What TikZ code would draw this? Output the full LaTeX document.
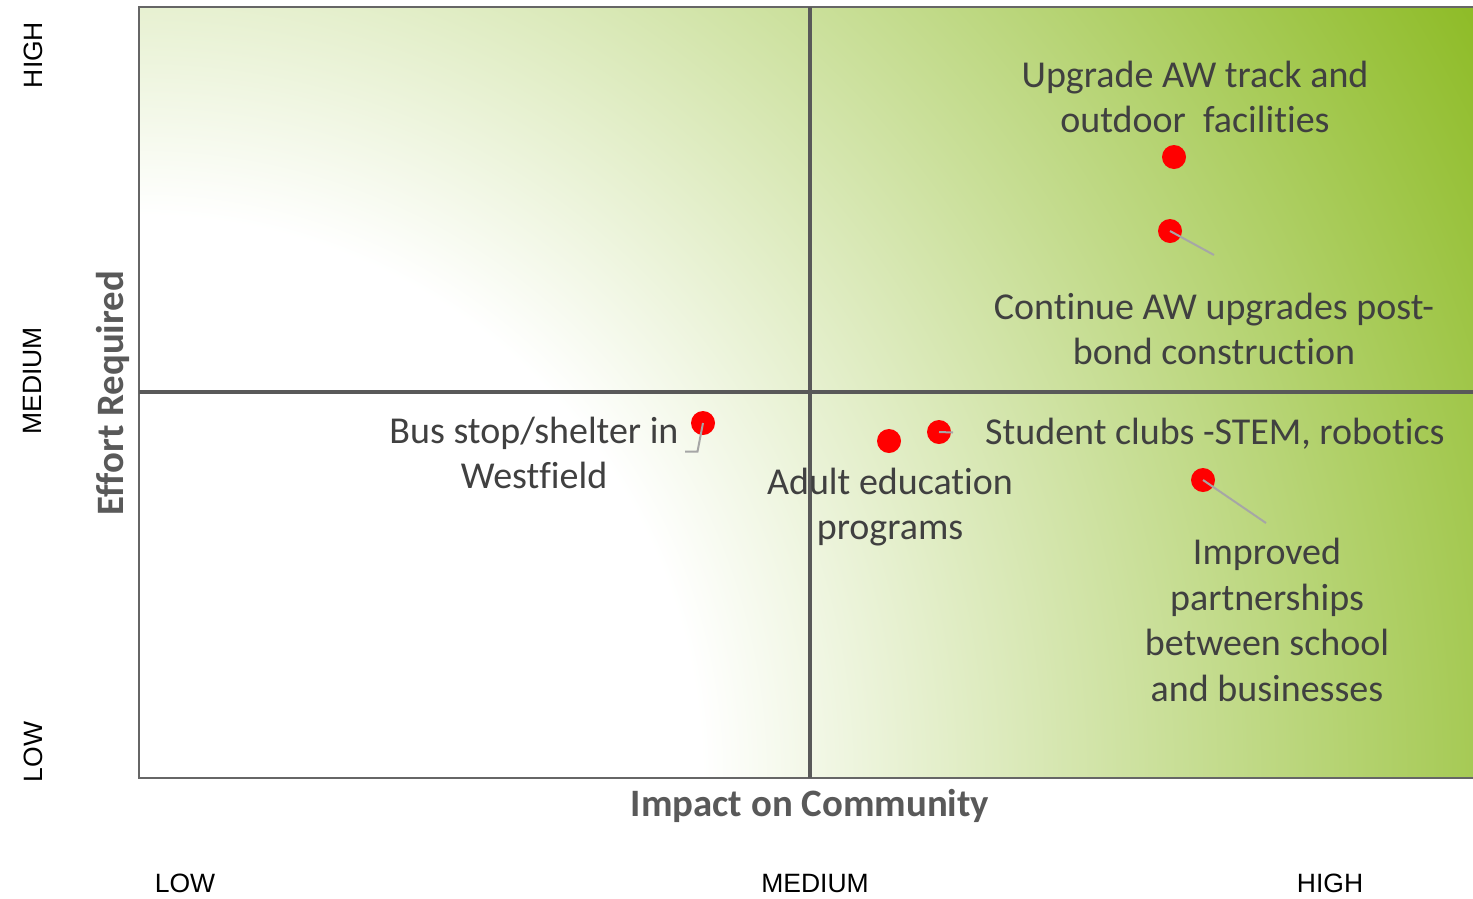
\documentclass[tikz,border=0pt]{standalone}
\usepackage{fontspec}
\setmainfont{Carlito}[Ligatures={NoCommon}]
\newfontfamily\lvlfont{Liberation Sans}
\definecolor{qgreen}{HTML}{8DBB25}
\definecolor{txt}{HTML}{404040}
\definecolor{axisgray}{HTML}{595959}
\definecolor{framegray}{HTML}{666666}
\definecolor{leadgray}{HTML}{A6A6A6}
\pgfdeclareradialshading{quadshade}{\pgfpoint{0bp}{0bp}}{color(0bp)=(white); color(560bp)=(white); color(1545bp)=(qgreen)}
\begin{document}
\begin{tikzpicture}[x=1pt,y=-1pt,
  framestyle/.style={draw=framegray, line width=2.5pt},
  divider/.style={draw=axisgray, line width=4pt},
  dot/.style={circle, fill=red, draw=none, minimum size=24pt, inner sep=0pt},
  lead/.style={draw=leadgray, line width=2pt},
  lbl/.style={text=txt, align=center, font=\fontsize{38}{45.5}\selectfont, inner sep=0pt},
  axttl/.style={text=axisgray, font=\fontsize{38.8}{46}\selectfont\bfseries, inner sep=0pt},
  lvl/.style={text=black, font=\lvlfont\fontsize{26.5}{30}\selectfont, inner sep=0pt}]
\useasboundingbox (0,0) rectangle (1473,898);
\begin{scope}
  \clip (139,7) rectangle (1473,778);
  \node[inner sep=0pt, outer sep=0pt] (bg) at (139,778) {\pgfuseshading{quadshade}};
\end{scope}
\draw[framestyle] (1474,7) -- (139,7) -- (139,778) -- (1474,778);
\draw[divider] (810,7) -- (810,778);
\draw[divider] (139,392) -- (1474,392);

% texts
\node[lbl] (up) at (1195,97) {Upgrade AW track and\\outdoor~ facilities};
\node[lbl] (cont) at (1214,329) {Continue AW upgrades post-\\bond construction};
\node[lbl] (bus) at (534,453) {Bus stop/shelter in\\Westfield};
\node[lbl, anchor=west] (stud) at (985,434) {Student clubs -STEM, robotics};
\node[lbl] (adult) at (890,507) {Adult education\\programs};
\node[lbl] (impr) at (1267,620) {Improved\\partnerships\\between school\\and businesses};

% dots
\node[dot] (d1) at (1174,157) {};
\node[dot] (d2) at (1170,231) {};
\node[dot] (d3) at (703,423) {};
\node[dot] (d4) at (889,441) {};
\node[dot] (d5) at (939,432) {};
\node[dot] (d6) at (1203,480) {};

% leaders
\coordinate (l2) at (1214,255);
\coordinate (l3a) at (697.5,451.5);
\coordinate (l3b) at (685,451.5);
\coordinate (l5) at (953,432.5);
\coordinate (l6) at (1266,523);
\draw[lead] (d2.center) -- (l2);
\draw[lead] (d3.center) -- (l3a) -- (l3b);
\draw[lead] (d5.center) -- (l5);
\draw[lead] (d6.center) -- (l6);

% axis titles
\node[axttl, rotate=90] (eff) at (113,393) {Effort Required};
\node[axttl] (imp) at (810,806) {Impact on Community};

% levels
\node[lvl, rotate=90] (yh) at (33,55) {HIGH};
\node[lvl, rotate=90] (ym) at (33,381) {MEDIUM};
\node[lvl, rotate=90] (yl) at (33,752) {LOW};
\node[lvl] (xl) at (185,883) {LOW};
\node[lvl] (xm) at (815,883) {MEDIUM};
\node[lvl] (xh) at (1330,883) {HIGH};
\end{tikzpicture}
\end{document}
